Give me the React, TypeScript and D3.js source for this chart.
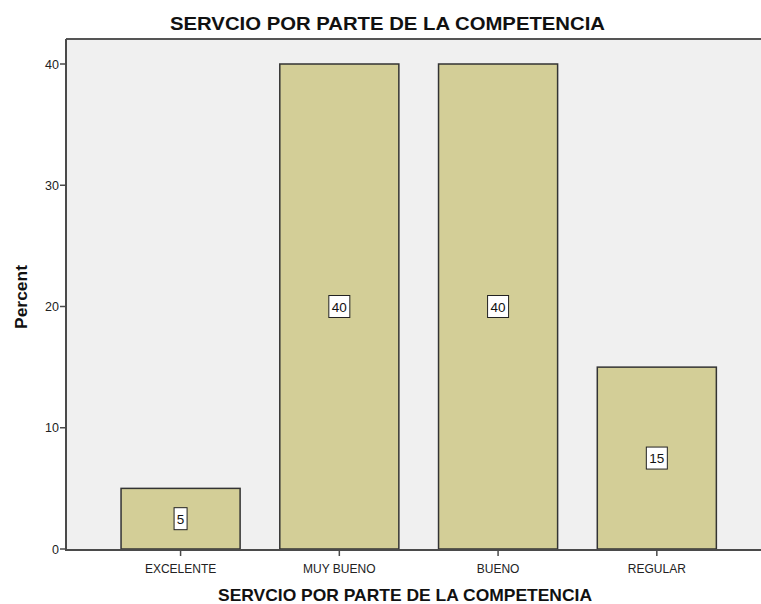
import React from "react";
import * as d3 from "d3";

const categories = ["EXCELENTE", "MUY BUENO", "BUENO", "REGULAR"];
const percents = [5, 40, 40, 15];
const yTicks = [0, 10, 20, 30, 40];
const title = "SERVCIO POR PARTE DE LA COMPETENCIA";
const xTitle = "SERVCIO POR PARTE DE LA COMPETENCIA";
const yTitle = "Percent";

const W = 761;
const H = 604;
const plotLeft = 66;
const plotTop = 39;
const plotBottom = 550;
const plotRight = 775;

export default function App() {
  const x = d3
    .scaleBand<string>()
    .domain(categories)
    .range([101.2, 736.2])
    .paddingInner(0.25)
    .paddingOuter(0.125);
  const y = d3.scaleLinear().domain([0, 40]).range([549, 64]);
  const font = "'Liberation Sans', Arial, sans-serif";
  const axisColor = "#4a4a4a";

  return (
    <svg
      width={W}
      height={H}
      style={{ position: "absolute", left: 0, top: 0, background: "#fff" }}
      fontFamily={font}
    >
      <rect x={plotLeft} y={plotTop} width={plotRight - plotLeft} height={plotBottom - plotTop} fill="#f0f0f0" />
      <line x1={plotLeft} x2={plotRight} y1={plotTop} y2={plotTop} stroke="#555" strokeWidth={2} />
      {categories.map((c, i) => {
        const bx = x(c)!;
        const bw = x.bandwidth();
        const v = percents[i];
        const yTop = y(v);
        const yBase = y(0);
        const mid = (yTop + yBase) / 2;
        const label = String(v);
        const boxW = label.length === 1 ? 13 : 21;
        return (
          <g key={c}>
            <rect x={bx} y={yTop} width={bw} height={yBase - yTop} fill="#d3ce97" stroke="#333" strokeWidth={1.5} />
            <rect x={bx + bw / 2 - boxW / 2} y={mid - 11} width={boxW} height={22} fill="#fff" stroke="#222" strokeWidth={1} />
            <text x={bx + bw / 2} y={mid + 5} textAnchor="middle" fontSize={13.5} fill="#111">
              {label}
            </text>
            <line x1={bx + bw / 2} x2={bx + bw / 2} y1={plotBottom} y2={plotBottom + 6} stroke={axisColor} strokeWidth={1.5} />
            <text x={bx + bw / 2} y={plotBottom + 23} textAnchor="middle" fontSize={12} fill="#222">
              {c}
            </text>
          </g>
        );
      })}
      <line x1={plotLeft} x2={plotRight} y1={plotBottom} y2={plotBottom} stroke={axisColor} strokeWidth={2} />
      <line x1={plotLeft} x2={plotLeft} y1={plotTop} y2={plotBottom + 1} stroke={axisColor} strokeWidth={2} />
      {yTicks.map((t) => (
        <g key={t}>
          <line x1={plotLeft - 6} x2={plotLeft} y1={y(t)} y2={y(t)} stroke={axisColor} strokeWidth={1.5} />
          <text x={plotLeft - 7} y={y(t) + 4.5} textAnchor="end" fontSize={12.5} fill="#222">
            {t}
          </text>
        </g>
      ))}
      <text
        x={387.5}
        y={30}
        textAnchor="middle"
        fontSize={18.5}
        fontWeight="bold"
        fill="#111"
        textLength={435}
        lengthAdjust="spacingAndGlyphs"
      >
        {title}
      </text>
      <text
        x={405}
        y={601}
        textAnchor="middle"
        fontSize={17}
        fontWeight="bold"
        fill="#111"
        textLength={374}
        lengthAdjust="spacingAndGlyphs"
      >
        {xTitle}
      </text>
      <text
        transform={`translate(27, 297) rotate(-90)`}
        textAnchor="middle"
        fontSize={16.5}
        fontWeight="bold"
        fill="#111"
        textLength={64}
        lengthAdjust="spacingAndGlyphs"
      >
        {yTitle}
      </text>
    </svg>
  );
}
